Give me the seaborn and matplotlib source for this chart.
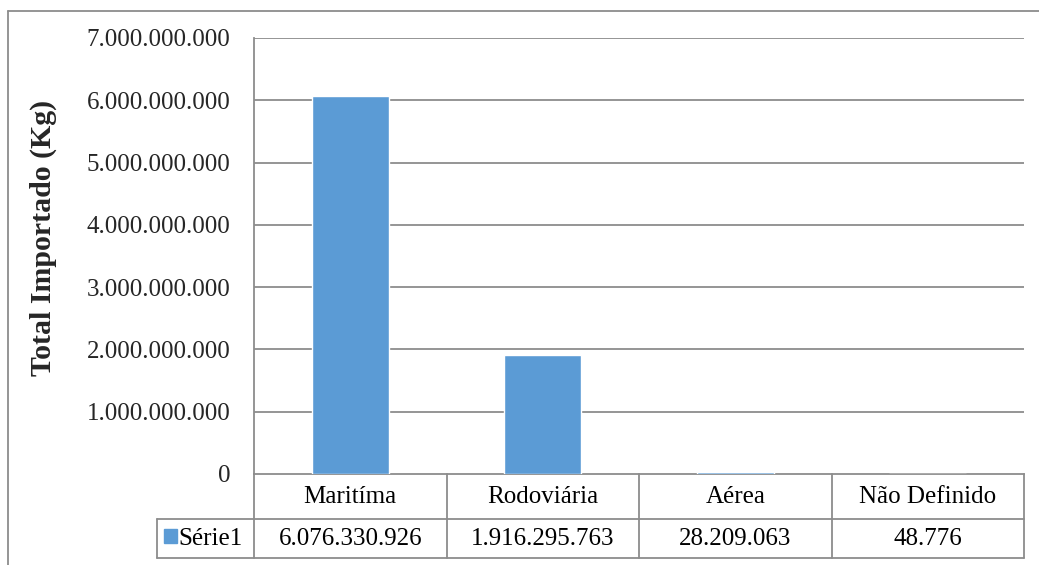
import unicodedata
import matplotlib
matplotlib.use("Agg")
import matplotlib.pyplot as plt
import matplotlib.transforms as mtransforms
from matplotlib.lines import Line2D
from matplotlib.patches import Rectangle
import seaborn as sns
import pandas as pd

# Imported weight by transport mode
categories = ["Maritíma", "Rodoviária", "Aérea", "Não Definido"]
values = [6076330926, 1916295763, 28209063, 48776]
series_name = "Série1"
y_ticks = [0, 1e9, 2e9, 3e9, 4e9, 5e9, 6e9, 7e9]
y_label = "Total Importado (Kg)"

categories = [unicodedata.normalize("NFC", c) for c in categories]
series_name = unicodedata.normalize("NFC", series_name)

BAR_COLOR = "#5B9BD5"
LINE_COLOR = "#8C8C8C"
GRID_COLOR = "#8C8C8C"
SERIF = "Liberation Serif"


def fmt_pt(v):
    return f"{int(round(v)):,}".replace(",", ".")


sns.set_theme(style="white")
plt.rcParams["font.family"] = [SERIF]

W, H = 1039, 565
fig = plt.figure(figsize=(W / 100, H / 100), dpi=100)
fig.patch.set_facecolor("white")

# plot area in pixels
px_l, px_r, px_t, px_b = 254, 1024, 38, 474
ax = fig.add_axes([px_l / W, 1 - px_b / H, (px_r - px_l) / W, (px_b - px_t) / H])

df = pd.DataFrame({"modo": categories, "kg": values})
sns.barplot(data=df, x="modo", y="kg", color=BAR_COLOR, saturation=1,
            width=0.4, ax=ax, zorder=3)

ax.set_ylim(0, 7e9)
ax.set_xlim(-0.5, len(categories) - 0.5)
ax.set_yticks(y_ticks)
ax.set_yticklabels([fmt_pt(t) for t in y_ticks], fontsize=18, family=SERIF)
ax.tick_params(axis="y", length=0, pad=17)
ax.set_xticks([])
ax.set_xlabel("")
ax.set_ylabel(y_label, fontsize=21.5, fontweight="bold", family=SERIF)
ax.yaxis.set_label_coords((57 - px_l) / (px_r - px_l), (px_b - 238) / (px_b - px_t))

for y in y_ticks[1:]:
    ax.axhline(y, color=GRID_COLOR, lw=1.3, zorder=1)

for side in ["top", "right"]:
    ax.spines[side].set_visible(False)
for side in ["left", "bottom"]:
    ax.spines[side].set_color(LINE_COLOR)
    ax.spines[side].set_linewidth(1.3)

# data table below the plot (x in data coords, y in axes fraction)
trans = mtransforms.blended_transform_factory(ax.transData, ax.transAxes)
ah = px_b - px_t
row1 = -(518.5 - px_b) / ah
row2 = -(558 - px_b) / ah
n = len(categories)
leg_left = -0.5 - (px_l - 157) / ((px_r - px_l) / n)

lines = [
    ([leg_left, n - 0.5], [row1, row1]),
    ([leg_left, n - 0.5], [row2, row2]),
    ([leg_left, leg_left], [row1, row2]),
]
for i in range(n + 1):
    lines.append(([i - 0.5, i - 0.5], [0, row2]))
for xs, ys in lines:
    ax.add_line(Line2D(xs, ys, transform=trans, color=LINE_COLOR, lw=1.3,
                       clip_on=False))

y_cat = -(497 - px_b) / ah
y_val = -(539 - px_b) / ah
for i, (c, v) in enumerate(zip(categories, values)):
    ax.text(i, y_cat, c, transform=trans, ha="center", va="center",
            fontsize=18, color="black", family=SERIF)
    ax.text(i, y_val, fmt_pt(v), transform=trans, ha="center",
            va="center", fontsize=18, color="black", family=SERIF)

# legend key cell
ax.text(-0.5 - 11 / ((px_r - px_l) / n), y_val, series_name, transform=trans,
        ha="right", va="center", fontsize=18, color="black", family=SERIF)
fig.add_artist(Rectangle((164 / W, 1 - 543 / H), 13 / W, 14 / H,
                         transform=fig.transFigure, color=BAR_COLOR))

# outer chart frame
fig.add_artist(Line2D([8 / W, 8 / W], [0, 1 - 11 / H], transform=fig.transFigure,
                      color=LINE_COLOR, lw=1.3))
fig.add_artist(Line2D([8 / W, 1], [1 - 11 / H, 1 - 11 / H], transform=fig.transFigure,
                      color=LINE_COLOR, lw=1.3))

fig.savefig("out.png", dpi=100, facecolor="white")
